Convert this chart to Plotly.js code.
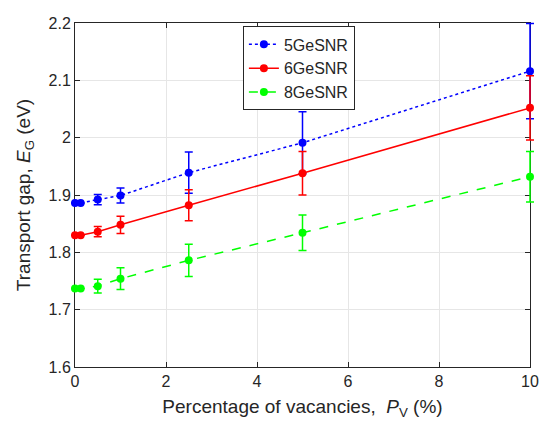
<!DOCTYPE html>
<html><head><meta charset="utf-8">
<script src="https://cdn.plot.ly/plotly-3.0.1.min.js"></script>
<style>html,body{margin:0;padding:0;background:#fff}#chart{width:539px;height:424px}</style>
</head><body><div id="chart"></div>
<script>
const vacancies = [0, 0.125, 0.5, 1, 2.5, 5, 10];
const gap5 = [1.886, 1.886, 1.892, 1.899, 1.939, 1.991, 2.116];
const err5 = [0, 0, 0.009, 0.013, 0.036, 0.054, 0.083];
const gap6 = [1.830, 1.830, 1.836, 1.848, 1.882, 1.938, 2.052];
const err6 = [0, 0, 0.009, 0.015, 0.027, 0.038, 0.056];
const gap8 = [1.737, 1.737, 1.741, 1.754, 1.786, 1.834, 1.932];
const err8 = [0, 0, 0.012, 0.019, 0.028, 0.031, 0.044];
const names = ['5GeSNR', '6GeSNR', '8GeSNR'];

function tr(y, e, name, color, dash) {
  return {
    x: vacancies, y: y, name: name, type: 'scatter', mode: 'lines+markers',
    cliponaxis: false,
    line: {color: color, width: 1.5, dash: dash},
    marker: {color: color, size: 8, symbol: 'circle'},
    error_y: {type: 'data', array: e, visible: true, color: color, thickness: 1.5, width: 4}
  };
}
const data = [
  tr(gap5, err5, names[0], '#0000ff', 'dot'),
  tr(gap6, err6, names[1], '#ff0000', 'solid'),
  tr(gap8, err8, names[2], '#00ff00', 'dash')
];
const font = {family: 'Liberation Sans, Arial, sans-serif', color: '#262626'};
const layout = {
  width: 539, height: 424,
  margin: {l: 75, r: 9, t: 23, b: 57},
  paper_bgcolor: '#fff', plot_bgcolor: '#fff',
  font: Object.assign({size: 15}, font),
  showlegend: true,
  legend: {x: 0.369, y: 0.99, xanchor: 'left', yanchor: 'top', bgcolor: '#fff',
           bordercolor: '#262626', borderwidth: 1, font: Object.assign({size: 16}, font),
           tracegroupgap: 0},
  xaxis: {
    range: [0, 10], tickvals: [0, 2, 4, 6, 8, 10], ticks: 'inside', ticklen: 5, layer: 'below traces',
    tickcolor: '#262626', showline: true, linecolor: '#262626', linewidth: 1, mirror: 'ticks',
    showgrid: true, gridcolor: '#e6e6e6', zeroline: false,
    tickfont: Object.assign({size: 16}, font),
    title: {text: 'Percentage of vacancies,  <i>P</i><sub>V</sub> (%)', font: Object.assign({size: 19}, font), standoff: 10}
  },
  yaxis: {
    range: [1.6, 2.2], tickvals: [1.6, 1.7, 1.8, 1.9, 2.0, 2.1, 2.2], ticktext: ['1.6','1.7','1.8','1.9','2','2.1','2.2'],
    ticks: 'inside', ticklen: 5, layer: 'below traces',
    tickcolor: '#262626', showline: true, linecolor: '#262626', linewidth: 1, mirror: 'ticks',
    showgrid: true, gridcolor: '#e6e6e6', zeroline: false,
    tickfont: Object.assign({size: 16}, font),
    title: {text: 'Transport gap, <i>E</i><sub>G</sub> (eV)', font: Object.assign({size: 19}, font), standoff: 12}
  }
};
Plotly.newPlot('chart', data, layout, {displayModeBar: false, staticPlot: true}).then(function () {
  document.querySelectorAll('#chart .plot, #chart .scatterlayer, #chart .trace, #chart .errorbars, #chart .errorbar')
    .forEach(function (el) { el.removeAttribute('clip-path'); });
});
</script></body></html>
